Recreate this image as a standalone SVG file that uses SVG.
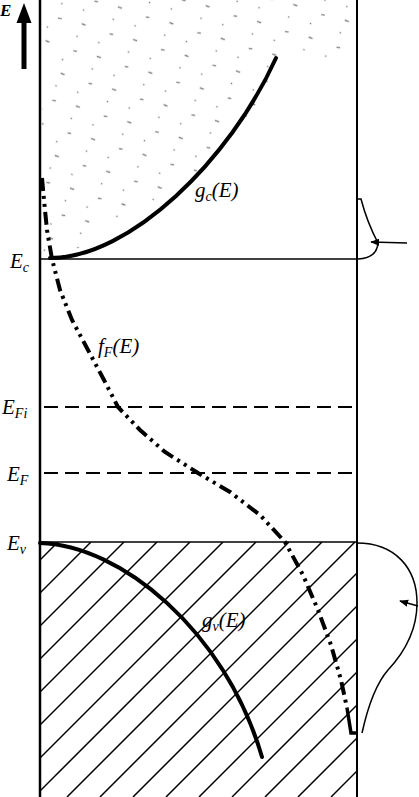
<svg xmlns="http://www.w3.org/2000/svg" width="419" height="797" viewBox="0 0 419 797">
<style>
.axis{stroke:#000;stroke-width:2.5;fill:none}
.level{stroke:#000;stroke-width:1.3;fill:none}
.dash{stroke:#000;stroke-width:2;fill:none;stroke-dasharray:14 7}
.thick{stroke:#000;stroke-width:4;fill:none;stroke-linecap:round}
.ff{stroke:#000;stroke-width:4;fill:none;stroke-dasharray:13 5 3 5 3 5}
.hatch{stroke:#000;stroke-width:1.5}
.thin{stroke:#000;stroke-width:1.5;fill:none}
text{font-family:"Liberation Serif","DejaVu Serif",serif;font-style:italic;font-size:21px;fill:#000}
.sub{font-size:14px}
</style>
<defs>
<marker id="ah" viewBox="0 0 10 10" refX="9" refY="5" markerWidth="9" markerHeight="9" orient="auto" markerUnits="userSpaceOnUse">
<path d="M0,1 L10,5 L0,9 Z" fill="#000"/>
</marker>
<clipPath id="hclip"><rect x="40" y="542" width="317" height="255"/></clipPath>
<clipPath id="sclip"><polygon points="42,0 350,0 350,60 285,60 260,100 220,150 170,195 110,232 70,252 42,252"/></clipPath>
<pattern id="stip" width="40" height="36" patternUnits="userSpaceOnUse" patternTransform="rotate(-25)">
<path d="M5,5 l3,2 M24,20 l3,3 M14,29 l1,1 M31,8 l1,1" stroke="#777" stroke-width="1.3"/>
</pattern>
</defs>

<g id="stipple">
<rect x="42" y="0" width="315" height="252" fill="url(#stip)" clip-path="url(#sclip)"/>
</g>

<g id="hatching" clip-path="url(#hclip)">
<line class="hatch" x1="-197" y1="797" x2="58" y2="542"/>
<line class="hatch" x1="-164" y1="797" x2="91" y2="542"/>
<line class="hatch" x1="-131" y1="797" x2="124" y2="542"/>
<line class="hatch" x1="-98" y1="797" x2="157" y2="542"/>
<line class="hatch" x1="-65" y1="797" x2="190" y2="542"/>
<line class="hatch" x1="-32" y1="797" x2="223" y2="542"/>
<line class="hatch" x1="1" y1="797" x2="256" y2="542"/>
<line class="hatch" x1="34" y1="797" x2="289" y2="542"/>
<line class="hatch" x1="67" y1="797" x2="322" y2="542"/>
<line class="hatch" x1="100" y1="797" x2="355" y2="542"/>
<line class="hatch" x1="133" y1="797" x2="388" y2="542"/>
<line class="hatch" x1="166" y1="797" x2="421" y2="542"/>
<line class="hatch" x1="199" y1="797" x2="454" y2="542"/>
<line class="hatch" x1="232" y1="797" x2="487" y2="542"/>
<line class="hatch" x1="265" y1="797" x2="520" y2="542"/>
<line class="hatch" x1="298" y1="797" x2="553" y2="542"/>
<line class="hatch" x1="331" y1="797" x2="586" y2="542"/>
</g>

<g id="axes">
<line class="axis" x1="40" y1="0" x2="40" y2="797"/>
<line class="axis" x1="357" y1="0" x2="357" y2="797" style="stroke-width:2"/>
</g>

<g id="energy-arrow">
<line x1="24" y1="20" x2="24" y2="69" stroke="#000" stroke-width="5"/>
<polygon points="24,3 16.5,23 31.5,23" fill="#000"/>
<text x="0" y="16" style="font-weight:bold;font-size:17px">E</text>
</g>

<g id="Ec">
<line class="level" x1="40" y1="259" x2="357" y2="259"/>
<text x="10" y="268">E<tspan class="sub" dy="4">c</tspan></text>
</g>
<g id="EFi">
<line class="dash" x1="44" y1="407" x2="357" y2="407"/>
<text x="2" y="414">E<tspan class="sub" dy="4">Fi</tspan></text>
</g>
<g id="EF">
<line class="dash" x1="44" y1="473" x2="357" y2="473"/>
<text x="7" y="481">E<tspan class="sub" dy="4">F</tspan></text>
</g>
<g id="Ev">
<line class="level" x1="40" y1="542" x2="357" y2="542"/>
<text x="7" y="550">E<tspan class="sub" dy="4">v</tspan></text>
</g>

<g id="gc">
<path class="thick" d="M50,258 C130,258 230,160 276,58"/>
<text x="195" y="197">g<tspan class="sub" dy="4">c</tspan><tspan dy="-4">(E)</tspan></text>
</g>

<g id="gv">
<path class="thick" d="M40,543 C120,545 225,630 262,757"/>
<text x="202" y="627">g<tspan class="sub" dy="4">v</tspan><tspan dy="-4">(E)</tspan></text>
</g>

<g id="fF">
<polyline class="ff" points="42,178 44,200 47,230 52,259 60,290 72,320 88,350 104,380 118,407 140,430 165,452 198,473 230,492 260,515 285,542 303,575 318,610 331,645 341,680 347,708"/>
<path d="M347,708 L351,733 L358,733" stroke="#000" stroke-width="3.5" fill="none"/>
<text x="98" y="353">f<tspan class="sub" dy="4">F</tspan><tspan dy="-4">(E)</tspan></text>
</g>

<g id="n-curve">
<path class="thin" d="M357,199 L361,199 Q367,222 378,243 Q377,258 358,259"/>
</g>
<g id="p-curve">
<path class="thin" d="M357,543 C395,543 417,568 417,603 C417,632 402,655 388,670 C374,686 366,715 362,733"/>
</g>

<g id="connectors">
<line class="thin" x1="407" y1="243" x2="371" y2="242" marker-end="url(#ah)"/>
<line class="thin" x1="418" y1="606" x2="400" y2="601" marker-end="url(#ah)"/>
</g>
</svg>
